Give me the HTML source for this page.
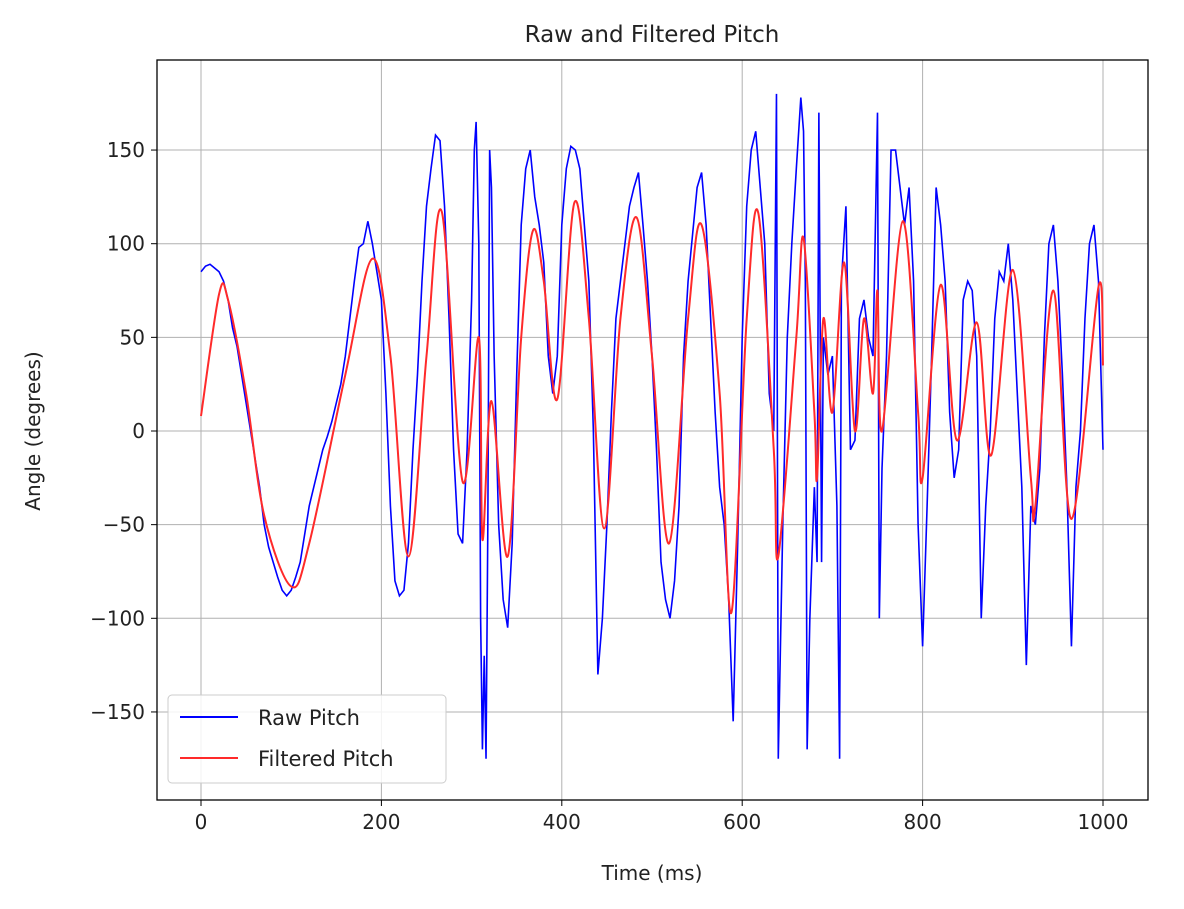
<!DOCTYPE html>
<html><head><meta charset="utf-8"><style>
body{margin:0;background:#fff;font-family:"Liberation Sans","DejaVu Sans",sans-serif;}
svg text{font-family:"DejaVu Sans","Liberation Sans",sans-serif;fill:#222;}
</style></head><body>
<svg id="chart" width="1184" height="904" xmlns="http://www.w3.org/2000/svg">
<text x="652" y="42" font-size="23" text-anchor="middle">Raw and Filtered Pitch</text>
<text x="652" y="880" font-size="20" text-anchor="middle">Time (ms)</text>
<text x="40" y="431" font-size="20" text-anchor="middle" transform="rotate(-90 40 431)">Angle (degrees)</text>
<g id="grid"></g><g id="series"></g><g id="ticks"></g>
<rect x="157" y="60" width="991" height="740" fill="none" stroke="#000" stroke-width="1.3"/>
<g>
<rect x="168" y="695" width="278" height="88" rx="4" fill="#fff" fill-opacity="0.85" stroke="#ccc"/>
<line x1="180" y1="717" x2="238" y2="717" stroke="#0000ff" stroke-width="2"/>
<text x="258" y="725" font-size="21">Raw Pitch</text>
<line x1="180" y1="758" x2="238" y2="758" stroke="#ff2a2a" stroke-width="2"/>
<text x="258" y="766" font-size="21">Filtered Pitch</text>
</g>
</svg>
<script>
const xTicks=[0,200,400,600,800,1000];
const yTicks=[-150,-100,-50,0,50,100,150];
const rawT=[0,5,10,15,20,25,30,35,40,45,50,55,60,65,70,75,80,85,90,95,100,105,110,115,120,125,130,135,140,145,150,155,160,165,170,175,180,185,190,195,200,205,210,215,220,225,230,235,240,245,250,255,260,265,270,275,280,285,290,295,300,303,305,308,310,312,314,316,318,320,322,325,330,335,340,345,350,355,360,365,370,375,380,385,390,395,400,405,410,415,420,425,430,435,440,445,450,455,460,465,470,475,480,485,490,495,500,505,510,515,520,525,530,535,540,545,550,555,560,565,570,575,580,585,590,595,600,605,610,615,620,625,630,635,638,640,645,650,655,660,665,668,670,672,675,680,683,685,688,690,695,700,705,708,710,715,720,725,730,735,740,745,750,752,755,760,765,770,775,780,785,790,795,800,805,810,815,820,825,830,835,840,845,850,855,860,865,870,875,880,885,890,895,900,905,910,915,920,925,930,935,940,945,950,955,960,965,970,975,980,985,990,995,1000];
const rawV=[85,88,89,87,85,80,70,55,45,30,15,0,-15,-30,-50,-62,-70,-78,-85,-88,-85,-78,-70,-55,-40,-30,-20,-10,-3,5,15,25,40,60,80,98,100,112,100,85,70,20,-40,-80,-88,-85,-60,-10,30,80,120,140,158,155,120,60,-10,-55,-60,-10,70,150,165,100,-100,-170,-120,-175,-50,150,130,40,-50,-90,-105,-60,30,110,140,150,125,110,90,40,20,40,110,140,152,150,140,110,80,0,-130,-100,-50,10,60,80,100,120,130,138,110,80,40,-10,-70,-90,-100,-80,-40,40,80,105,130,138,110,60,10,-30,-50,-90,-155,-60,50,120,150,160,130,100,20,0,180,-175,-50,50,100,140,178,160,80,-170,-100,-30,-70,170,-70,50,30,40,-40,-175,80,120,-10,-5,60,70,50,40,170,-100,-20,40,150,150,130,110,130,80,-50,-115,-40,40,130,110,80,10,-25,-10,70,80,75,40,-100,-40,0,60,85,80,100,70,20,-30,-125,-40,-50,-20,50,100,110,80,30,-30,-115,-30,0,60,100,110,80,-10];
const filtT=[0,20,30,50,70,100,120,160,190,210,230,250,267,290,308,312,322,340,355,368,380,395,414,430,447,465,483,500,519,540,555,575,588,605,618,635,640,660,668,680,683,690,700,713,725,735,745,750,755,778,795,800,820,838,860,876,900,920,925,945,965,995,1000];
const filtV=[8,73,70,20,-45,-83,-60,30,92,40,-67,40,117,-27,50,-58,16,-67,50,107,80,17,122,60,-52,60,114,40,-60,60,110,20,-97,60,116,-10,-67,50,103,10,-25,60,10,90,0,60,20,75,0,112,10,-25,78,-5,58,-13,86,-25,-40,75,-47,77,35];
const X=t=>201+t*0.902, Y=v=>431-v*1.873;
const NS='http://www.w3.org/2000/svg';
const grid=document.getElementById('grid'),ticks=document.getElementById('ticks'),series=document.getElementById('series');
function mk(tag,attrs,parent){const e=document.createElementNS(NS,tag);for(const k in attrs)e.setAttribute(k,attrs[k]);parent.appendChild(e);return e;}
xTicks.forEach(t=>{const x=X(t);
const g=mk('line',{x1:x,x2:x,y1:60,y2:800,stroke:'#b0b0b0','stroke-width':1},grid);


mk('line',{x1:x,x2:x,y1:800,y2:806,stroke:'#000'},ticks);
const tx=mk('text',{x:x,y:829,'font-size':20,'text-anchor':'middle'},ticks);tx.textContent=t;

});
yTicks.forEach(v=>{const y=Y(v);
const g=mk('line',{x1:157,x2:1148,y1:y,y2:y,stroke:'#b0b0b0','stroke-width':1},grid);


mk('line',{x1:151,x2:157,y1:y,y2:y,stroke:'#000'},ticks);
const tx=mk('text',{x:145,y:y+7,'font-size':20,'text-anchor':'end'},ticks);tx.textContent=(v<0?'\u2212'+(-v):v);

});
const rp=mk('polyline',{points:rawT.map((t,i)=>X(t)+','+Y(rawV[i])).join(' '),fill:'none',stroke:'#0000ff','stroke-width':1.6},series);


// smooth filtered line (Catmull-Rom)
const P=filtT.map((t,i)=>[X(t),Y(filtV[i])]);
let d='M'+P[0][0]+','+P[0][1];
for(let i=0;i<P.length-1;i++){const p0=P[Math.max(0,i-1)],p1=P[i],p2=P[i+1],p3=P[Math.min(P.length-1,i+2)];
d+=' C'+(p1[0]+(p2[0]-p0[0])/6)+','+(p1[1]+(p2[1]-p0[1])/6)+' '+(p2[0]-(p3[0]-p1[0])/6)+','+(p2[1]-(p3[1]-p1[1])/6)+' '+p2[0]+','+p2[1];}
const fp=mk('path',{d:d,fill:'none',stroke:'#ff2a2a','stroke-width':2},series);


</script>
</body></html>
